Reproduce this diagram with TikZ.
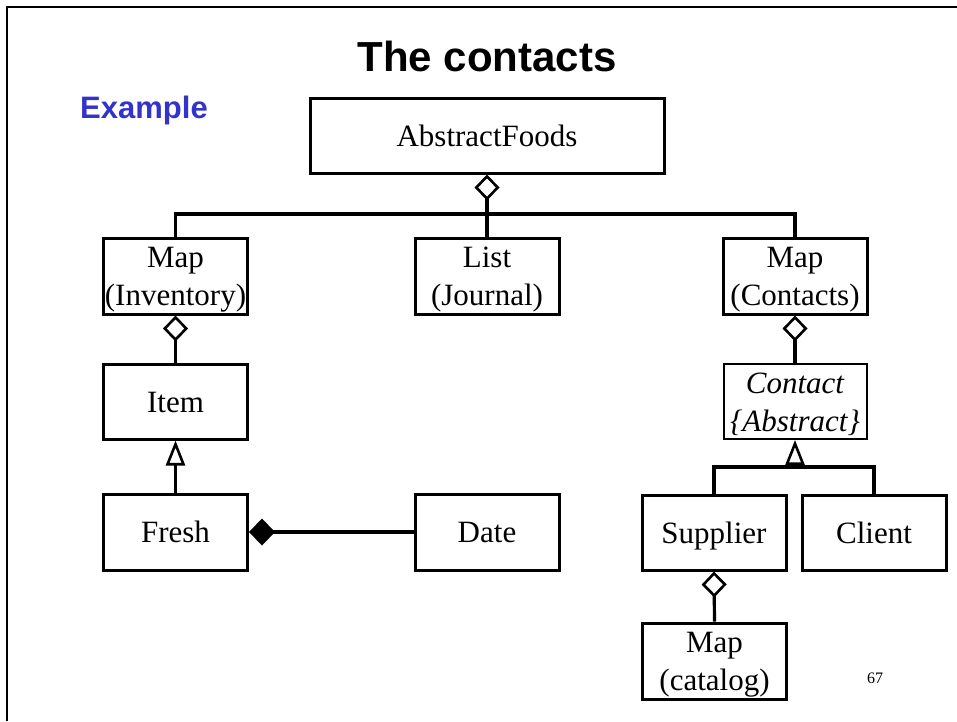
\documentclass[tikz,border=0pt]{standalone}
\usepackage{fontspec}
\setmainfont{Liberation Serif}
\newfontfamily\headfont{Liberation Sans}
\usetikzlibrary{arrows.meta}
\definecolor{exblue}{RGB}{51,51,204}

\begin{document}
\begin{tikzpicture}[x=1pt, y=-1pt,
    every node/.style={rectangle, draw, line width=3pt, minimum width=144pt, minimum height=76pt,
      inner sep=0pt, align=center, font=\fontsize{31}{38}\selectfont},
    oneline/.style={text height=21pt, text depth=0pt},
    twoline/.style={text height=59pt, text depth=0pt},
    plain/.style={draw=none, minimum width=0pt, minimum height=0pt},
    agg/.style={line width=3.2pt, -{Diamond[open, length=26pt, width=25pt, line width=2.6pt]}},
    comp/.style={line width=3.2pt, -{Diamond[length=26pt, width=27pt]}},
    gen/.style={line width=3.2pt, -{Triangle[open, length=25pt, width=19pt, line width=2.6pt]}}]
    \useasboundingbox (0,0) rectangle (957,721);

    % frame and titles
    \draw[line width=2.6pt] (7,721) -- (7,7) -- (957,7);
    \node[plain, font=\headfont\bfseries\fontsize{42}{48}\selectfont] (title) at (487,56) {The contacts};
    \node[plain, text=exblue, font=\headfont\bfseries\fontsize{31}{36}\selectfont] (example) at (144,110) {Example};

    % top level
    \node[oneline, minimum width=354pt, minimum height=75pt] (abstract) at (487,135.5) {AbstractFoods};
    \node[twoline] (mapinv) at (175.5,276) {Map\\(Inventory)};
    \node[twoline] (list) at (487,276) {List\\(Journal)};
    \node[twoline] (mapcon) at (795,276) {Map\\(Contacts)};

    \coordinate (busA) at (487,214);
    \draw[agg] (list.north) -- (abstract.south);
    \draw[line width=3.2pt] (mapinv.north) |- (busA) -| (mapcon.north);

    % left branch
    \node[oneline, minimum height=75pt] (item) at (175.5,401.5) {Item};
    \node[oneline] (fresh) at (175.5,532) {Fresh};
    \node[oneline] (date) at (487,532) {Date};

    \draw[agg] (item.north) -- (mapinv.south);
    \draw[gen] (fresh.north) -- (item.south);
    \draw[comp] (date.west) -- (fresh.east);

    % right branch
    \node[twoline, minimum width=143pt, minimum height=75pt, line width=2pt] (contact) at (795,401.5) {\itshape Contact\\\itshape\{Abstract\}};
    \node[oneline, minimum height=75pt] (supplier) at (714,532.5) {Supplier};
    \node[oneline, minimum height=75pt] (client) at (874,532.5) {Client};
    \node[twoline] (catalog) at (714.5,661) {Map\\(catalog)};

    \coordinate (busB) at (795,467);
    \draw[agg] (contact.north) -- (mapcon.south);
    \draw[gen] (busB) -- (contact.south);
    \draw[line width=3.4pt] (supplier.north) |- (busB) -| (client.north);
    \draw[agg] (catalog.north) -- (supplier.south);

    % page number
    \node[plain, font=\fontsize{16}{19}\selectfont] (page) at (875,678) {67};
\end{tikzpicture}
\end{document}
